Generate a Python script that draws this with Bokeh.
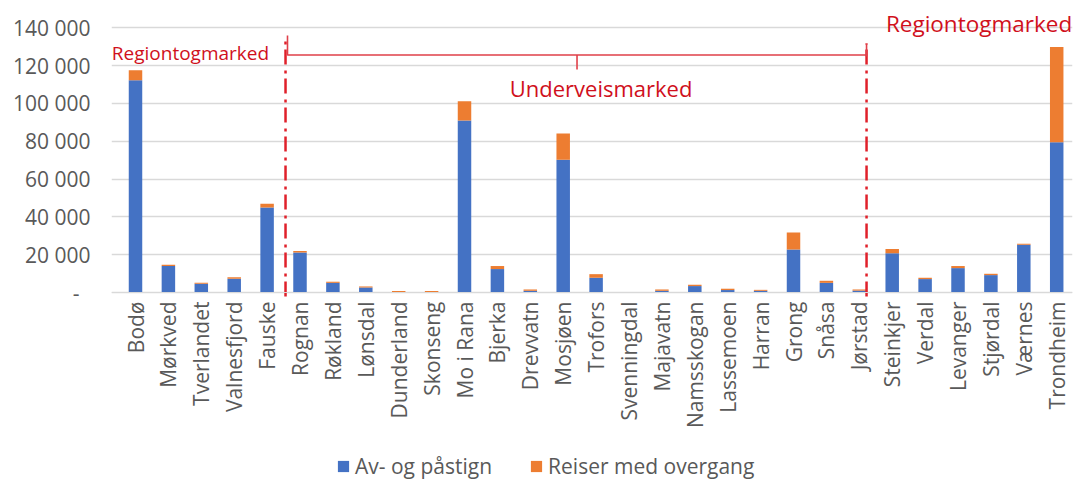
import numpy as np
from bokeh.plotting import figure
from bokeh.models import (Range1d, FixedTicker, Legend, LegendItem, Label, ColumnDataSource)
from bokeh.embed import file_html
from bokeh.resources import INLINE

stations = ["Bodø", "Mørkved", "Tverlandet", "Valnesfjord", "Fauske", "Rognan", "Røkland",
            "Lønsdal", "Dunderland", "Skonseng", "Mo i Rana", "Bjerka", "Drevvatn", "Mosjøen",
            "Trofors", "Svenningdal", "Majavatn", "Namsskogan", "Lassemoen", "Harran", "Grong",
            "Snåsa", "Jørstad", "Steinkjer", "Verdal", "Levanger", "Stjørdal", "Værnes", "Trondheim"]
av_og_pastign = [112200, 14000, 4600, 7300, 45000, 21200, 5100, 2650, 200, 200, 91000, 12400,
                 900, 70200, 7800, 0, 900, 3400, 1300, 900, 22800, 5100, 1000, 20700, 7100,
                 12900, 9200, 25300, 79500]
reiser_med_overgang = [5300, 700, 500, 700, 1900, 700, 600, 550, 600, 600, 10100, 1600, 700,
                       13900, 1900, 0, 700, 700, 700, 500, 9000, 1100, 600, 2300, 700, 1100,
                       700, 500, 50400]
y_ticks = [0, 20000, 40000, 60000, 80000, 100000, 120000, 140000]
y_tick_labels = ["-\u00a0\u00a0", "20 000", "40 000", "60 000", "80 000", "100 000", "120 000", "140 000"]
series_names = ["Av- og påstign", "Reiser med overgang"]
colors = ["#4472C4", "#ED7D31"]

FONT = "Open Sans"
GREY = "#595959"
RED = "#D0101C"

x_idx = list(range(len(stations)))
src = ColumnDataSource(dict(x=x_idx, a=av_og_pastign, b=reiser_med_overgang))

p = figure(width=1083, height=480, output_backend="svg", toolbar_location=None,
           x_range=Range1d(-0.7295, 28.48), y_range=Range1d(-99433, 154439),
           min_border_left=111, min_border_right=11, min_border_top=0, min_border_bottom=0)
p.outline_line_color = None
p.background_fill_color = "white"

rs = p.vbar_stack(["a", "b"], x="x", width=0.41, color=colors, line_width=0, source=src)

# axes
p.xaxis.fixed_location = 0
p.xaxis.ticker = FixedTicker(ticks=x_idx)
p.xaxis.major_label_overrides = {i: s for i, s in enumerate(stations)}
p.xaxis.major_label_orientation = np.pi / 2
p.xaxis.major_tick_line_color = None
p.xaxis.minor_tick_line_color = None
p.xaxis.major_tick_out = 0
p.xaxis.major_tick_in = 0
p.xaxis.major_label_standoff = 9
p.xaxis.axis_line_color = "#D9D9D9"
p.xaxis.axis_line_width = 1
p.xaxis.major_label_text_font = FONT
p.xaxis.major_label_text_font_size = "21px"
p.xaxis.major_label_text_color = GREY

p.yaxis.ticker = FixedTicker(ticks=y_ticks)
p.yaxis.major_label_overrides = {t: l for t, l in zip(y_ticks, y_tick_labels)}
p.yaxis.axis_line_color = None
p.yaxis.major_tick_line_color = None
p.yaxis.minor_tick_line_color = None
p.yaxis.major_tick_out = 0
p.yaxis.major_tick_in = 0
p.yaxis.major_label_standoff = 21
p.yaxis.major_label_text_font = FONT
p.yaxis.major_label_text_font_size = "21px"
p.yaxis.major_label_text_color = GREY

p.xgrid.grid_line_color = None
p.ygrid.grid_line_color = "#D9D9D9"
p.ygrid.grid_line_width = 1.5

# market dividers (between categories)
d1 = 4.56
d2 = 22.22
p.segment(x0=[d1, d2], y0=[-2100, -2100], x1=[d1, d2], y1=[135900, 131700],
          line_color="#E0202A", line_width=2.5, line_dash="15 5 3 6")

# brace over the intermediate market
bx0 = d1 + 0.06
bx1 = d2
bmid = (bx0 + bx1) / 2
by = 125600
p.multi_line(xs=[[bx0, bx0, bx1], [bmid, bmid], [bx1, bx1]],
             ys=[[135900, by, by], [by, 117950], [131700, 124800]],
             line_color="#E0404A", line_width=1.6)

p.add_layout(Label(x=-0.72, y=126900, text="Regiontogmarked", text_font=FONT,
                   text_font_size="19px", text_color=RED, text_align="left",
                   text_baseline="middle"))
p.add_layout(Label(x=14.15, y=108400, text="Underveismarked", text_font=FONT,
                   text_font_size="22px", text_color=RED, text_align="center",
                   text_baseline="middle"))
p.add_layout(Label(x=28.47, y=142270, text="Regiontogmarked", text_font=FONT,
                   text_font_size="22.5px", text_color=RED, text_align="right",
                   text_baseline="middle"))

legend = Legend(items=[LegendItem(label=series_names[0], renderers=[rs[0]]),
                       LegendItem(label=series_names[1], renderers=[rs[1]])],
                orientation="horizontal", location=(225, 0),
                padding=0, margin=0, spacing=37, label_standoff=5,
                glyph_width=14, glyph_height=14, label_height=20,
                border_line_color=None, background_fill_alpha=0,
                label_text_font=FONT, label_text_font_size="21px", label_text_color=GREY)
p.add_layout(legend, "center")

open("out.html", "w").write(file_html(p, INLINE))
